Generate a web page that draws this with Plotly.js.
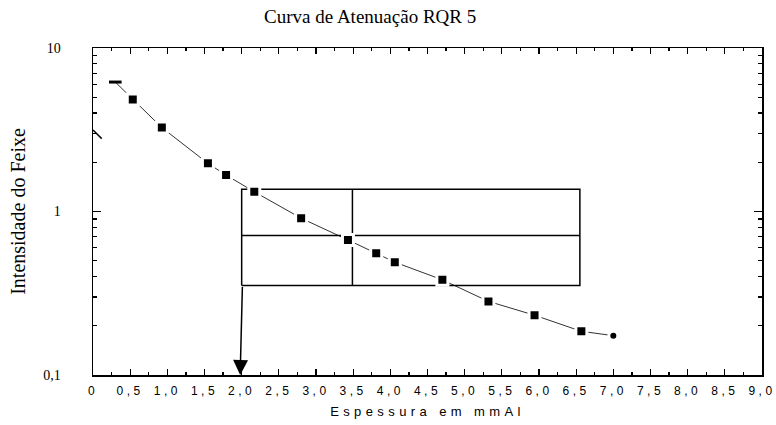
<!DOCTYPE html>
<html><head><meta charset="utf-8">
<script src="https://cdn.plot.ly/plotly-3.0.1.min.js"></script>
<style>
html,body{margin:0;padding:0;background:#fff;}
#chart{width:776px;height:425px;}
.xtick text{letter-spacing:3.5px;}
.xtitle{letter-spacing:4.4px;}
</style></head><body><div id="chart"></div>
<script>
// measured data (thickness in mm Al, relative beam intensity)
const thickness = [0.30, 0.535, 0.926, 1.546, 1.79, 2.17, 2.80, 3.43, 3.81, 4.06, 4.70, 5.32, 5.94, 6.57, 7.00];
const intensity = [6.19, 4.85, 3.26, 1.97, 1.67, 1.32, 0.91, 0.67, 0.556, 0.49, 0.382, 0.282, 0.232, 0.185, 0.174];
// stray fit-curve fragment at the left axis
const stubX = [0, 0.117];
const stubY = [3.15, 2.79];
// reading box
const boxX = [2.0, 3.49, 6.55];      // left, divider, right
const boxY = [0.353, 0.712, 1.37];   // bottom, middle, top
// arrow down to the thickness axis
const arrowFrom = [2.01, 0.353];
const arrowTo = [1.98, 0.1];
// tick labels
const xTickVals = [0,0.5,1,1.5,2,2.5,3,3.5,4,4.5,5,5.5,6,6.5,7,7.5,8,8.5,9];
const xTickText = ['0','0,5','1,0','1,5','2,0','2,5','3,0','3,5','4,0','4,5','5,0','5,5','6,0','6,5','7,0','7,5','8,0','8,5','9,0'];
const yTickVals = [0.1, 1, 10];
const yTickText = ['0,1', '1', '10'];
const yMinorVals = [0.2,0.3,0.4,0.5,0.6,0.7,0.8,0.9,2,3,4,5,6,7,8,9];

const n = thickness.length;
const traces = [
  {x: thickness, y: intensity, mode: 'lines', line: {color: '#333', width: 1}, hoverinfo: 'skip'},
  {x: stubX, y: stubY, mode: 'lines', line: {color: '#000', width: 1.5}, hoverinfo: 'skip'},
  // box outline + inner lines
  {x: [boxX[0], boxX[2], boxX[2], boxX[0], boxX[0], null, boxX[0], boxX[2], null, boxX[1], boxX[1]],
   y: [boxY[0], boxY[0], boxY[2], boxY[2], boxY[0], null, boxY[1], boxY[1], null, boxY[0], boxY[2]],
   mode: 'lines', line: {color: '#000', width: 1.5}, hoverinfo: 'skip'},
  {x: thickness.slice(1, n - 1), y: intensity.slice(1, n - 1), mode: 'markers',
   marker: {symbol: 'square', size: 11, color: '#000', line: {color: '#fff', width: 3}}},
  {x: thickness.slice(0, 1), y: intensity.slice(0, 1), mode: 'markers',
   marker: {symbol: 'line-ew', size: 9, color: '#000', line: {color: '#000', width: 3}}},
  {x: thickness.slice(n - 1), y: intensity.slice(n - 1), mode: 'markers',
   marker: {symbol: 'circle', size: 9, color: '#000', line: {color: '#fff', width: 3}}}
];

const layout = {
  width: 776, height: 425,
  margin: {l: 93, r: 14, t: 48, b: 50},
  paper_bgcolor: '#fff', plot_bgcolor: '#fff',
  showlegend: false,
  title: {text: 'Curva de Atenuação RQR 5', font: {family: 'Liberation Serif', size: 19, color: '#000'},
          x: 0.477, xref: 'container', xanchor: 'center', y: 0.962, yref: 'container', yanchor: 'middle'},
  xaxis: {
    range: [0, 9], tickmode: 'array', tickvals: xTickVals, ticktext: xTickText,
    ticks: 'inside', ticklen: 6, tickwidth: 1.2, tickcolor: '#000',
    showline: true, linecolor: '#000', linewidth: 1.5, mirror: 'allticks',
    showgrid: false, zeroline: false, ticklabelstandoff: 4,
    tickfont: {family: 'Liberation Sans', size: 12, color: '#000'},
    minor: {tickmode: 'linear', tick0: 0, dtick: 0.25, ticks: 'inside', ticklen: 3, tickwidth: 1.2, tickcolor: '#000', showgrid: false},
    title: {text: 'Espessura em mmAl', font: {family: 'Liberation Sans', size: 13, color: '#000'}, standoff: 10}
  },
  yaxis: {
    type: 'log', range: [-1, 1], tickmode: 'array', tickvals: yTickVals, ticktext: yTickText,
    ticks: 'inside', ticklen: 8, tickwidth: 1.2, tickcolor: '#000',
    showline: true, linecolor: '#000', linewidth: 1.5, mirror: 'allticks',
    showgrid: false, zeroline: false, ticklabelstandoff: 28,
    tickfont: {family: 'Liberation Serif', size: 14, color: '#000'},
    minor: {tickmode: 'array', tickvals: yMinorVals, ticks: 'inside', ticklen: 4, tickwidth: 1.2, tickcolor: '#000', showgrid: false},
    title: {text: 'Intensidade do Feixe', font: {family: 'Liberation Serif', size: 20, color: '#000'}, standoff: 12}
  },
  annotations: [{
    x: arrowTo[0], y: Math.log10(arrowTo[1]), xref: 'x', yref: 'y',
    ax: arrowFrom[0], ay: Math.log10(arrowFrom[1]), axref: 'x', ayref: 'y',
    text: '', showarrow: true, arrowhead: 2, arrowsize: 2, arrowwidth: 1.5, arrowcolor: '#000', standoff: 0
  }]
};

Plotly.newPlot('chart', traces, layout, {displayModeBar: false, staticPlot: true});
</script></body></html>
